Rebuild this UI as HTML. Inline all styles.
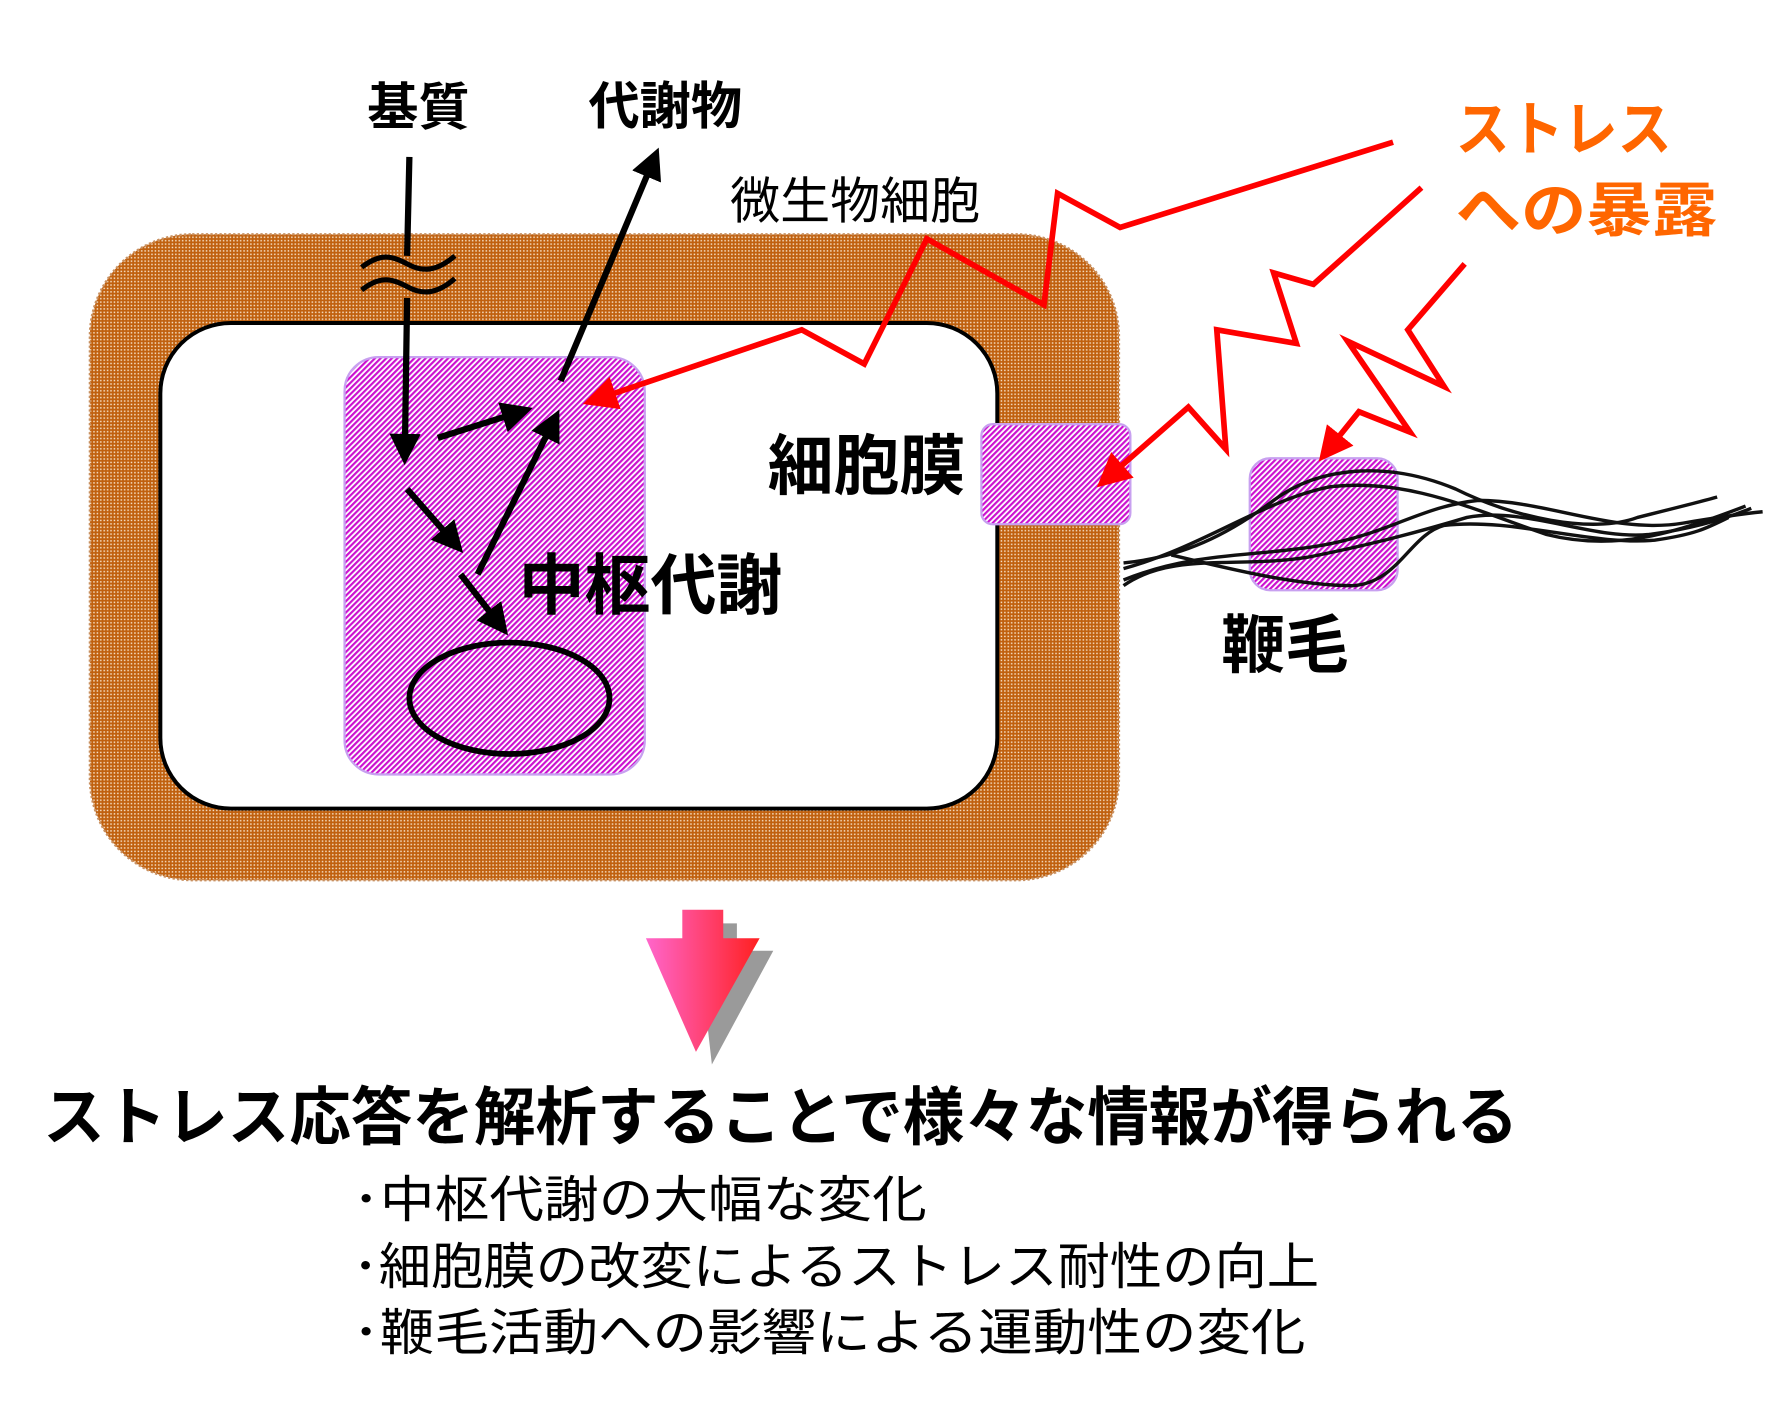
<!DOCTYPE html>
<html><head><meta charset="utf-8"><style>
html,body{margin:0;padding:0;background:#fff;width:1774px;height:1413px;overflow:hidden}
svg{display:block}
text{font-family:"Liberation Sans","Noto Sans CJK JP",sans-serif}
</style></head><body>
<svg width="1774" height="1413" viewBox="0 0 1560 1242.5" preserveAspectRatio="none">
<defs>
<pattern id="hatch" width="3.5" height="3.5" patternUnits="userSpaceOnUse" patternTransform="rotate(45)">
<rect width="3.5" height="3.5" fill="#fff"/><rect width="1.9" height="3.5" fill="#cc10d0"/>
</pattern>
<pattern id="brown" width="3" height="3" patternUnits="userSpaceOnUse">
<rect width="3" height="3" fill="#c0600e"/><rect x="1" y="1" width="1.3" height="1.3" fill="#f8e4cc"/>
</pattern>
<linearGradient id="ag" x1="0" x2="1" y1="0" y2="0">
<stop offset="0" stop-color="#ff66cc"/><stop offset="1" stop-color="#ff2020"/>
</linearGradient>
<marker id="ab" markerWidth="5" markerHeight="5" refX="3" refY="2.5" orient="auto" markerUnits="strokeWidth">
<path d="M0,0 L5,2.5 L0,5 z" fill="#000"/></marker>
<marker id="ar" markerWidth="6" markerHeight="6" refX="4" refY="3" orient="auto" markerUnits="strokeWidth">
<path d="M0,0 L6,3 L0,6 z" fill="#f00"/></marker>
</defs>

<rect x="79" y="206" width="905" height="568" rx="90" fill="url(#brown)" stroke="#c89060" stroke-width="2" stroke-dasharray="2 2"/>
<rect x="141" y="284" width="736" height="427" rx="62" fill="#fff" stroke="#000" stroke-width="3.5"/>
<rect x="303" y="314" width="264" height="367" rx="30" fill="url(#hatch)" stroke="#c8a0f0" stroke-width="2"/>
<ellipse cx="448" cy="614" rx="88" ry="49" fill="none" stroke="#000" stroke-width="5"/>
<rect x="863" y="373" width="131" height="88" rx="10" fill="url(#hatch)" stroke="#c8a0f0" stroke-width="2"/>
<rect x="1099" y="403" width="130" height="116" rx="18" fill="url(#hatch)" stroke="#c8a0f0" stroke-width="2"/>

<!-- flagella -->
<g fill="none" stroke="#111" stroke-width="3">
<path d="M988,495 C1040,490 1080,470 1120,440 C1160,410 1220,405 1280,430 C1330,455 1400,470 1440,455 C1480,445 1500,440 1510,437"/>
<path d="M988,500 C1060,480 1110,440 1170,428 C1240,420 1300,450 1360,470 C1420,485 1470,470 1535,445"/>
<path d="M988,510 C1050,485 1100,490 1160,480 C1220,470 1250,445 1300,440 C1360,440 1420,470 1480,460 C1510,455 1530,452 1550,450"/>
<path d="M988,515 C1030,485 1090,500 1150,490 C1200,480 1240,470 1290,455 C1340,445 1400,475 1450,470 C1490,465 1520,455 1540,447"/>
<path d="M1030,488 C1080,500 1140,515 1190,515 C1230,512 1240,470 1270,462 C1330,455 1400,480 1455,475 C1490,470 1500,465 1520,455"/>
</g>

<!-- black arrows -->
<g stroke="#000" stroke-width="5.5" fill="none">
<path d="M360,138 L358,225 M358,262 L356,398" marker-end="url(#ab)"/>
<path d="M493,335 L575,140" marker-end="url(#ab)"/>
<path d="M385,385 L458,362" marker-end="url(#ab)"/>
<path d="M358,430 L400,478" marker-end="url(#ab)"/>
<path d="M420,505 L487,370" marker-end="url(#ab)"/>
<path d="M405,505 L440,550" marker-end="url(#ab)"/>
<path d="M318,235 C335,222 345,225 358,232 C372,240 385,238 400,225" stroke-width="4.5"/>
<path d="M318,255 C335,242 345,245 358,252 C372,260 385,258 400,245" stroke-width="4.5"/>
</g>

<!-- red zigzags -->
<g stroke="#f00" stroke-width="5" fill="none" stroke-linejoin="miter">
<path d="M1225,125 L985,200 L930,170 L918,268 L815,210 L760,320 L705,290 L522,352" marker-end="url(#ar)"/>
<path d="M1250,165 L1155,250 L1120,240 L1140,302 L1070,290 L1078,395 L1045,358 L972,422" marker-end="url(#ar)"/>
<path d="M1288,232 L1238,290 L1270,340 L1185,300 L1240,380 L1195,362 L1166,398" marker-end="url(#ar)"/>
</g>

<!-- big arrow -->
<polygon points="612,812 648,812 648,836 680,836 626,936" fill="#9a9a9a"/>
<polygon points="600,800 636,800 636,825 668,825 612,925 568,825 600,825" fill="url(#ag)"/>

<!-- labels -->
<g font-weight="bold" fill="#000">
<text x="368" y="110" font-size="45" text-anchor="middle">基質</text>
<text x="585" y="109" font-size="45" text-anchor="middle">代謝物</text>
<text x="762" y="430" font-size="58" text-anchor="middle">細胞膜</text>
<text x="572" y="535" font-size="58" text-anchor="middle">中枢代謝</text>
<text x="1130" y="587" font-size="56" text-anchor="middle">鞭毛</text>
<text x="38" y="1002" font-size="56" textLength="1297" lengthAdjust="spacingAndGlyphs">ストレス応答を解析することで様々な情報が得られる</text>
</g>
<g font-weight="bold" fill="#ff6600">
<text x="1280" y="132" font-size="52" textLength="190" lengthAdjust="spacingAndGlyphs">ストレス</text>
<text x="1280" y="203" font-size="52" textLength="230" lengthAdjust="spacingAndGlyphs">への暴露</text>
</g>
<text x="752" y="192" font-size="44" text-anchor="middle" fill="#000">微生物細胞</text>
<g font-size="44" fill="#000">
<text x="310" y="1070" textLength="505" lengthAdjust="spacingAndGlyphs">･中枢代謝の大幅な変化</text>
<text x="310" y="1129" textLength="850" lengthAdjust="spacingAndGlyphs">･細胞膜の改変によるストレス耐性の向上</text>
<text x="310" y="1187" textLength="838" lengthAdjust="spacingAndGlyphs">･鞭毛活動への影響による運動性の変化</text>
</g>
</svg>
</body></html>
